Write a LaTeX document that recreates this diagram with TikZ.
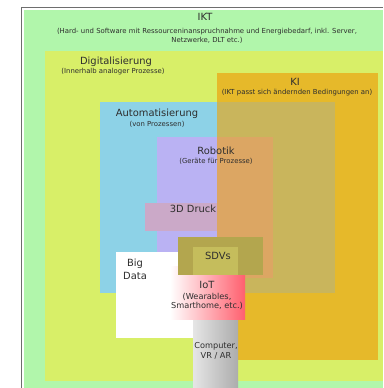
\documentclass[tikz,border=0pt]{standalone}
\usepackage{fontspec}
\setmainfont{DejaVu Sans}

\definecolor{framegray}{HTML}{6E6E6E}
\definecolor{iktgreen}{HTML}{B1F6AB}
\definecolor{digiyellow}{HTML}{D8EF68}
\definecolor{kiorange}{HTML}{E6B92A}
\definecolor{autoblue}{HTML}{8DD2E7}
\definecolor{autoki}{HTML}{C9B55C}
\definecolor{robopurple}{HTML}{BAB2F3}
\definecolor{roboki}{HTML}{DCA663}
\definecolor{druckrose}{HTML}{CBA9C8}
\definecolor{sdvolive}{HTML}{B3A64E}
\definecolor{sdvlight}{HTML}{C5BD5C}
\definecolor{iotred}{HTML}{FF5F6E}
\definecolor{textgray}{HTML}{2E2E2E}

\tikzset{
  head/.style={font=\fontsize{9.9}{12.5}\selectfont, text=textgray, inner sep=0pt, align=center},
  note/.style={font=\fontsize{6.9}{9}\selectfont, text=textgray, inner sep=0pt, align=center},
  midtext/.style={font=\fontsize{8.2}{9.5}\selectfont, text=textgray, inner sep=0pt, align=center},
}

\begin{document}
\begin{tikzpicture}[x=1pt, y=-1pt]
  \useasboundingbox (0,0) rectangle (383,388);
  \fill[white] (0,0) rectangle (383,388);

  % Rahmen und Grundflaechen
  \draw[framegray, line width=1.3pt] (21.5,388) -- (21.5,7.5) -- (383,7.5);
  \fill[iktgreen] (24,10) rectangle (383,388);
  \fill[digiyellow] (45,51) rectangle (383,381);
  \fill[kiorange] (217,73) rectangle (378,360);

  % Automatisierung, Robotik, 3D Druck
  \fill[autoblue] (100,102) rectangle (217,293);
  \fill[autoki] (217,102) rectangle (335,293);
  \fill[robopurple] (157,137) rectangle (217,278);
  \fill[roboki] (217,137) rectangle (273,278);
  \fill[druckrose] (145,203) rectangle (217,231);

  % Big Data, Computer, IoT, SDVs
  \fill[white] (116,252) rectangle (238,338);
  \shade[left color=gray!20, middle color=white, right color=gray!65] (193,275) rectangle (238,388);
  \shade[left color=white, right color=iotred] (170,266) rectangle (245,319);
  \fill[sdvolive] (178,237) rectangle (263,275);
  \fill[sdvlight] (193,247) rectangle (238,275);

  % Beschriftungen
  \node[head] (ikt) at (205,17) {IKT};
  \node[note] (iktnote) at (207,35.5) {(Hard- und Software mit Ressourceninanspruchnahme und Energiebedarf, inkl. Server,\\Netzwerke, DLT etc.)};
  \node[head] (digi) at (116,62) {Digitalisierung};
  \node[note] (diginote) at (113,72) {(Innerhalb analoger Prozesse)};
  \node[head] (ki) at (295,82) {KI};
  \node[note] (kinote) at (297,93) {(IKT passt sich ändernden Bedingungen an)};
  \node[head] (auto) at (157,114) {Automatisierung};
  \node[note] (autonote) at (157,124) {(von Prozessen)};
  \node[head] (robo) at (216,151) {Robotik};
  \node[note] (robonote) at (216,161) {(Geräte für Prozesse)};
  \node[head] (druck) at (193,209) {3D Druck};
  \node[head] (sdv) at (218,256) {SDVs};
  \node[head] (bigdata) at (135,269.5) {Big\\Data};
  \node[head] (iot) at (207,285) {IoT};
  \node[midtext] (iotnote) at (207,301.5) {(Wearables,\\Smarthome, etc.)};
  \node[midtext] (comp) at (216,351) {Computer,\\VR / AR};
\end{tikzpicture}
\end{document}
